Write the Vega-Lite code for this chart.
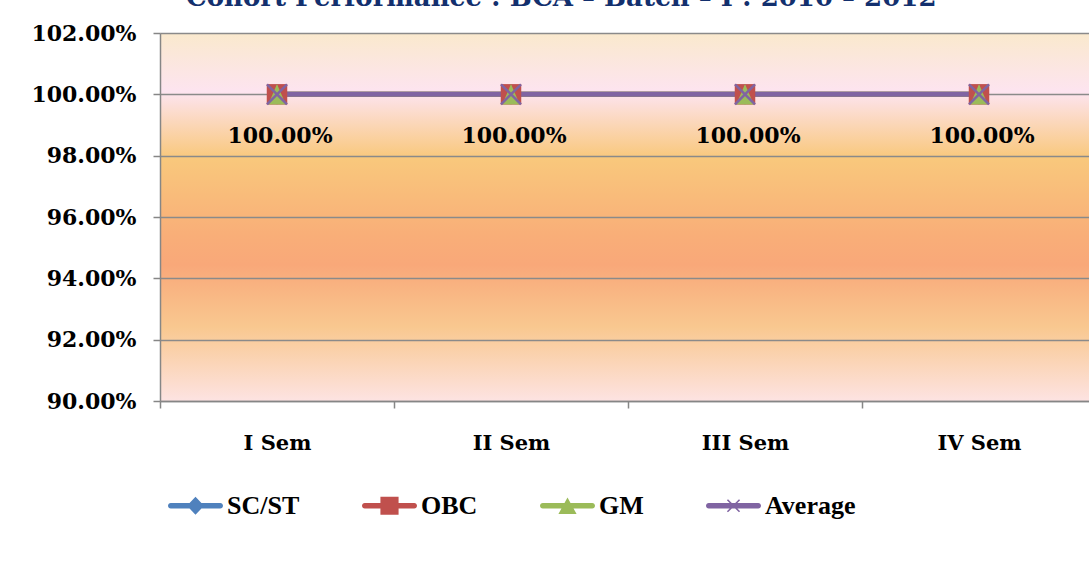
{
  "$schema": "https://vega.github.io/schema/vega-lite/v6.json",
  "autosize": "none",
  "width": 929,
  "height": 368,
  "padding": {"left": 160, "top": 33, "right": 0, "bottom": 162},
  "background": "white",
  "title": {
    "text": "Cohort Performance : BCA – Batch – I : 2010 – 2012",
    "anchor": "start",
    "frame": "group",
    "orient": "top",
    "offset": 0,
    "dx": 26,
    "dy": 10,
    "baseline": "alphabetic",
    "font": "DejaVu Serif",
    "fontSize": 26,
    "fontWeight": "bold",
    "color": "#13306E"
  },
  "data": {
    "values": [
      {"sem": "I Sem", "series": "SC/ST", "value": 1.0},
      {"sem": "II Sem", "series": "SC/ST", "value": 1.0},
      {"sem": "III Sem", "series": "SC/ST", "value": 1.0},
      {"sem": "IV Sem", "series": "SC/ST", "value": 1.0},
      {"sem": "I Sem", "series": "OBC", "value": 1.0},
      {"sem": "II Sem", "series": "OBC", "value": 1.0},
      {"sem": "III Sem", "series": "OBC", "value": 1.0},
      {"sem": "IV Sem", "series": "OBC", "value": 1.0},
      {"sem": "I Sem", "series": "GM", "value": 1.0},
      {"sem": "II Sem", "series": "GM", "value": 1.0},
      {"sem": "III Sem", "series": "GM", "value": 1.0},
      {"sem": "IV Sem", "series": "GM", "value": 1.0},
      {"sem": "I Sem", "series": "Average", "value": 1.0},
      {"sem": "II Sem", "series": "Average", "value": 1.0},
      {"sem": "III Sem", "series": "Average", "value": 1.0},
      {"sem": "IV Sem", "series": "Average", "value": 1.0}
    ]
  },
  "encoding": {
    "x": {
      "field": "sem",
      "type": "nominal",
      "sort": ["I Sem", "II Sem", "III Sem", "IV Sem"],
      "scale": {"type": "band", "range": [0, 936], "paddingInner": 0, "paddingOuter": 0},
      "axis": {
        "title": null,
        "labelAngle": 0,
        "grid": false,
        "tickBand": "extent",
        "domainColor": "#868686",
        "domainWidth": 1.5,
        "tickColor": "#868686",
        "tickWidth": 1.5,
        "tickSize": 7,
        "labelFont": "DejaVu Serif",
        "labelFontWeight": "bold",
        "labelFontSize": 21,
        "labelColor": "black",
        "labelPadding": 24
      }
    },
    "y": {
      "field": "value",
      "type": "quantitative",
      "scale": {"domain": [0.9, 1.02], "nice": false, "zero": false},
      "axis": {
        "title": null,
        "values": [0.9, 0.92, 0.94, 0.96, 0.98, 1.0, 1.02],
        "format": ".2%",
        "grid": true,
        "gridColor": "#8a8a8a",
        "gridWidth": 1.5,
        "domainColor": "#868686",
        "domainWidth": 1.5,
        "tickColor": "#868686",
        "tickWidth": 1.5,
        "tickSize": 7,
        "labelFont": "DejaVu Serif",
        "labelFontWeight": "bold",
        "labelFontSize": 22,
        "labelColor": "black",
        "labelPadding": 17
      }
    },
    "color": {
      "field": "series",
      "type": "nominal",
      "scale": {
        "domain": ["SC/ST", "OBC", "GM", "Average"],
        "range": ["#4F81BD", "#C0504D", "#9BBB59", "#8064A2"]
      },
      "legend": {
        "title": null,
        "orient": "none",
        "direction": "horizontal",
        "columns": 4,
        "legendX": 8,
        "legendY": 445,
        "symbolSize": 3025,
        "symbolStrokeWidth": 0,
        "columnPadding": 62,
        "labelOffset": 4,
        "labelFont": "Liberation Serif",
        "labelFontWeight": "bold",
        "labelFontSize": 26,
        "labelColor": "black",
        "encode": {
          "symbols": {
            "update": {
              "shape": {"signal": "(datum.value === 'SC/ST' ? 'M0,-0.33L0.31,0L0,0.33L-0.31,0Z' : datum.value === 'OBC' ? 'M-0.33,-0.33L0.33,-0.33L0.33,0.33L-0.33,0.33Z' : datum.value === 'GM' ? 'M0,-0.3L0.33,0.3L-0.33,0.3Z' : 'M-0.2,-0.24L0.24,0.2L0.2,0.24L-0.24,-0.2Z M0.2,-0.24L0.24,-0.2L-0.2,0.24L-0.24,0.2Z') + ' M-0.9,-0.1L0.9,-0.1A0.1,0.1 0 0 1 0.9,0.1L-0.9,0.1A0.1,0.1 0 0 1 -0.9,-0.1Z'"},
              "fill": {"scale": "color", "field": "value"},
              "stroke": {"value": "transparent"},
              "strokeWidth": {"value": 0},
              "opacity": {"value": 1}
            }
          }
        }
      }
    }
  },
  "layer": [
    {
      "mark": {"type": "line", "strokeWidth": 5}
    },
    {
      "transform": [{"filter": "datum.series !== 'Average'"}],
      "mark": {"type": "point", "filled": true, "opacity": 1, "size": 420},
      "encoding": {
        "shape": {
          "field": "series",
          "type": "nominal",
          "scale": {
            "domain": ["SC/ST", "OBC", "GM"],
            "range": ["diamond", "square", "M0,-1L0.85,1L-0.85,1Z"]
          },
          "legend": null
        }
      }
    },
    {
      "transform": [{"filter": "datum.series === 'Average'"}],
      "mark": {"type": "point", "filled": false, "opacity": 1, "size": 400, "strokeWidth": 2.5, "shape": "M-1,-1L1,1M-1,1L1,-1"}
    },
    {
      "transform": [{"filter": "datum.series === 'Average'"}],
      "mark": {"type": "text", "dx": 3, "dy": 42, "baseline": "middle", "font": "DejaVu Serif", "fontWeight": "bold", "fontSize": 22, "color": "black"},
      "encoding": {
        "text": {"field": "value", "type": "quantitative", "format": ".2%"},
        "color": {"value": "black"}
      }
    }
  ],
  "config": {
    "view": {
      "stroke": null,
      "fill": {
        "gradient": "linear",
        "x1": 0, "y1": 0, "x2": 0, "y2": 1,
        "stops": [
          {"offset": 0, "color": "#FAE9CD"},
          {"offset": 0.16, "color": "#FDE4F0"},
          {"offset": 0.34, "color": "#F9C87C"},
          {"offset": 0.55, "color": "#F9AE78"},
          {"offset": 0.63, "color": "#F9A879"},
          {"offset": 0.8, "color": "#F9C890"},
          {"offset": 1, "color": "#FDE3E2"}
        ]
      }
    }
  }
}
